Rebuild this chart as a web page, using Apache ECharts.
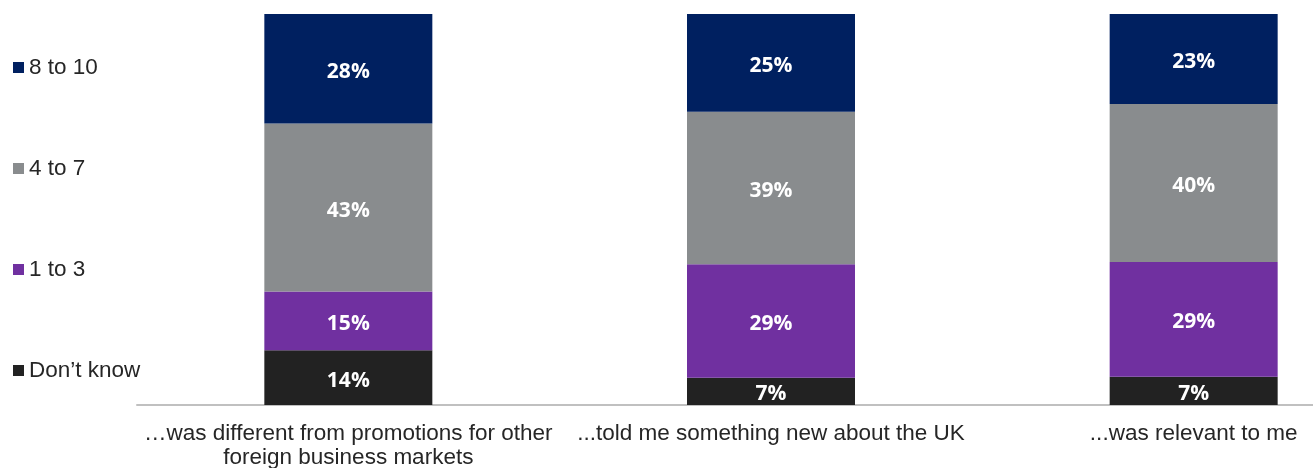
<!DOCTYPE html>
<html>
<head>
<meta charset="utf-8">
<script src="https://cdn.jsdelivr.net/npm/echarts@6/dist/echarts.min.js"></script>
<style>
  html, body { margin: 0; padding: 0; background: #fff; }
  #chart { width: 1313px; height: 468px; }
</style>
</head>
<body>
<div id="chart"></div>
<script>
var categories = [
  '\u2026was different from promotions for other\nforeign business markets',
  '...told me something new about the UK',
  '...was relevant to me'
]
var dontKnow = [14, 7, 7.2]
var oneToThree = [15, 29, 29.4]
var fourToSeven = [43, 39, 40.4]
var eightToTen = [28, 25, 23]

var chart = echarts.init(document.getElementById('chart'))

var label = {
  show: true,
  position: 'inside',
  offset: [0, 3],
  color: '#ffffff',
  fontFamily: 'Open Sans',
  fontWeight: 'bold',
  fontSize: 21,
  formatter: function (p) {
    return Math.round(p.value) + '%'
  }
}

function bar(name, data, color) {
  return {
    name: name,
    type: 'bar',
    stack: 'total',
    barWidth: 168,
    itemStyle: { color: color },
    label: label,
    data: data
  }
}

var option = {
  animation: false,
  legend: {
    orient: 'vertical',
    left: 8,
    top: 51,
    itemWidth: 11,
    itemHeight: 11,
    itemGap: 78,
    icon: 'rect',
    textStyle: {
      fontFamily: 'Liberation Sans',
      fontSize: 22.5,
      color: '#262626'
    },
    data: ['8 to 10', '4 to 7', '1 to 3', 'Don\u2019t know']
  },
  // the plot runs past the right edge of the picture
  grid: {
    top: 14,
    left: 137,
    right: -92,
    bottom: 63,
    outerBoundsMode: 'none'
  },
  xAxis: {
    type: 'category',
    data: categories,
    axisTick: { show: false },
    axisLine: {
      lineStyle: { color: '#c0c0c0', width: 2 }
    },
    axisLabel: {
      interval: 0,
      margin: 17,
      fontFamily: 'Liberation Sans',
      fontSize: 22.5,
      lineHeight: 24,
      color: '#262626'
    }
  },
  yAxis: {
    type: 'value',
    min: 0,
    max: 100,
    show: false
  },
  series: [
    bar('Don\u2019t know', dontKnow, '#222222'),
    bar('1 to 3', oneToThree, '#7030a0'),
    bar('4 to 7', fourToSeven, '#898c8e'),
    bar('8 to 10', eightToTen, '#002060')
  ]
}
chart.setOption(option)
</script>
</body>
</html>
